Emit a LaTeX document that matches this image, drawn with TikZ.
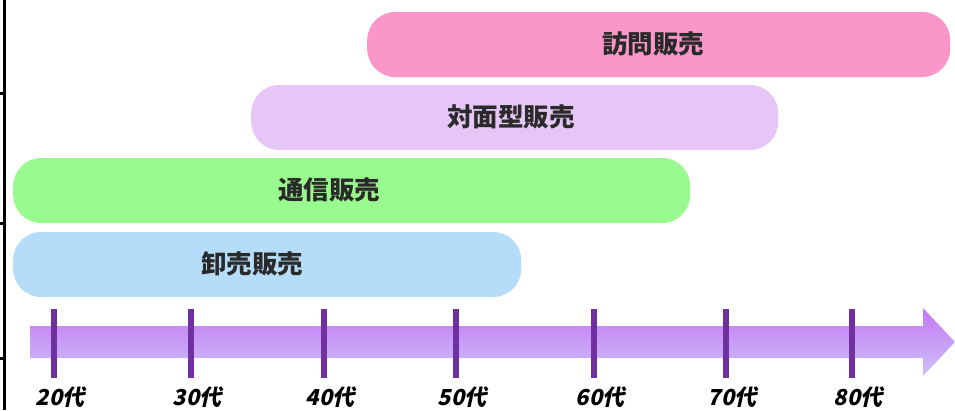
\documentclass[tikz,border=0pt]{standalone}
\usepackage{fontspec}
\newfontfamily\jp{Noto Sans CJK JP}
\newfontfamily\lab[FakeSlant=0.22]{Noto Sans CJK JP}
\definecolor{pinkc}{HTML}{FB97C8}
\definecolor{lavc}{HTML}{E6C6F6}
\definecolor{greenc}{HTML}{99FB8F}
\definecolor{bluec}{HTML}{B5DCF8}
\definecolor{arrtop}{HTML}{C677F2}
\definecolor{arrbot}{HTML}{CAC2FA}
\definecolor{tickc}{HTML}{7030A0}
\definecolor{txtc}{HTML}{2A2A2A}
\tikzset{
  bar/.style={draw=none, rounded corners=28pt, minimum height=65pt, inner sep=0pt, anchor=west},
  bartext/.style={font=\jp\bfseries\fontsize{25.5}{25.5}\selectfont, text=txtc, inner sep=0pt},
  agelab/.style={font=\lab\bfseries\fontsize{22}{22}\selectfont, text=black, inner sep=0pt},
  tickline/.style={draw=tickc, line width=6pt},
  border/.style={draw=black, line width=3pt}
}
\begin{document}
\begin{tikzpicture}[x=1pt,y=-1pt]
\useasboundingbox (0,0) rectangle (955,410);
% left border
\draw[border] (4.5,0) -- (4.5,410);
\draw[border] (0,93) -- (4.5,93);
\draw[border] (0,223) -- (4.5,223);
\draw[border] (0,358) -- (4.5,358);
% bars
\node[bar, fill=pinkc, minimum width=583pt] (houmon) at (367,44.5) {};
\node[bar, fill=lavc, minimum width=527pt] (taimen) at (251,117.5) {};
\node[bar, fill=greenc, minimum width=677pt] (tsushin) at (13,190.5) {};
\node[bar, fill=bluec, minimum width=508pt] (oroshi) at (13,264.5) {};
\node[bartext] (t1) at (653,44) {訪問販売};
\node[bartext] (t2) at (511,117) {対面型販売};
\node[bartext] (t3) at (329,190) {通信販売};
\node[bartext] (t4) at (252,264) {卸売販売};
% arrow
\shade[top color=arrtop, bottom color=arrbot]
  (30,326) -- (923,326) -- (923,308) -- (955,342) -- (923,376) -- (923,358) -- (30,358) -- cycle;
% ticks and labels
\foreach \x/\n/\t in {54/a/20,191/b/30,324/c/40,456/d/50,594/e/60,726/f/70,852/g/80}{
  \draw[tickline] (\x,309) -- (\x,378);
  \node[agelab] (lab\n) at (\x+6,397) {\t 代};
}
\end{tikzpicture}
\end{document}
